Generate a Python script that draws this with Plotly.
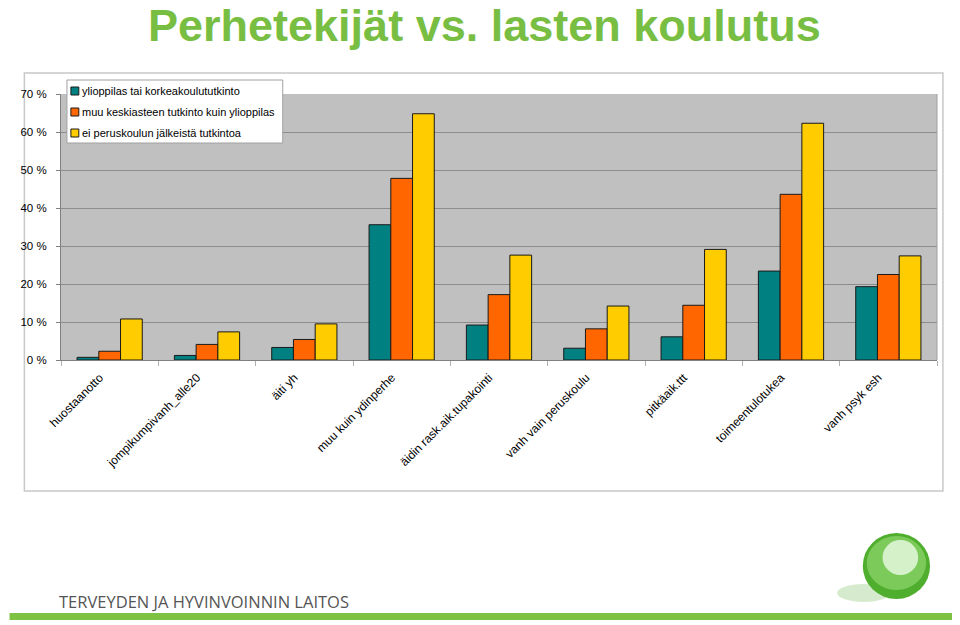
import plotly.graph_objects as go

categories = ["huostaanotto", "jompikumpivanh_alle20", "äiti yh", "muu kuin ydinperhe",
              "äidin rask.aik.tupakointi", "vanh vain peruskoulu", "pitkäaik.ttt",
              "toimeentulotukea", "vanh psyk esh"]
series_names = ["ylioppilas tai korkeakoulututkinto",
                "muu keskiasteen tutkinto kuin ylioppilas",
                "ei peruskoulun jälkeistä tutkintoa"]
ylioppilas = [0.7, 1.2, 3.3, 35.6, 9.2, 3.1, 6.1, 23.4, 19.3]
keskiaste = [2.3, 4.1, 5.4, 47.8, 17.2, 8.2, 14.4, 43.6, 22.5]
ei_tutkintoa = [10.8, 7.4, 9.5, 64.8, 27.6, 14.2, 29.1, 62.3, 27.4]
ytickvals = [0, 10, 20, 30, 40, 50, 60, 70]
yticktext = ["0 %", "10 %", "20 %", "30 %", "40 %", "50 %", "60 %", "70 %"]
colors = ["#008080", "#FF6600", "#FFCC00"]

# page has an 8px body margin: figure is drawn from screen (8, 8)
OFF = 8
W, H = 960 - OFF, 625 - OFF
L, R, T, B = 52, 937, 94, 360   # plot area in screen pixels


def px(x):
    return (x - L) / (R - L)


def py(y):
    return (B - y) / (B - T)


fig = go.Figure()
for name, vals, c in zip(series_names, [ylioppilas, keskiaste, ei_tutkintoa], colors):
    fig.add_trace(go.Bar(x=categories, y=vals, name=name, showlegend=False,
                         marker=dict(color=c, line=dict(color="#1a1a1a", width=1))))

shapes = [
    dict(type="rect", xref="paper", yref="paper", x0=px(15), x1=px(943), y0=py(491), y1=py(73),
         line=dict(color="#C8C8C8", width=1.5), layer="below"),
    dict(type="line", xref="paper", yref="paper", x0=1, x1=1, y0=0, y1=1,
         line=dict(color="#A0A0A0", width=1)),
    dict(type="rect", xref="paper", yref="paper", x0=px(0), x1=px(960), y0=py(620), y1=py(613),
         line=dict(width=0), fillcolor="#7DC242"),
    # logo
    dict(type="circle", xref="paper", yref="paper", x0=px(836), x1=px(890), y0=py(602), y1=py(584),
         line=dict(width=0), fillcolor="rgba(120,190,90,0.3)"),
    dict(type="circle", xref="paper", yref="paper", x0=px(862), x1=px(930), y0=py(599), y1=py(533),
         line=dict(width=0), fillcolor="#4FAE2E"),
    dict(type="circle", xref="paper", yref="paper", x0=px(866), x1=px(926), y0=py(590), y1=py(536),
         line=dict(width=0), fillcolor="#7CCB5A"),
    dict(type="circle", xref="paper", yref="paper", x0=px(882), x1=px(918), y0=py(575), y1=py(540),
         line=dict(width=0), fillcolor="rgba(235,250,230,0.8)"),
]

annotations = [
    dict(text="<b>Perhetekijät vs. lasten koulutus</b>", xref="paper", yref="paper",
         x=px(480), y=py(25), xanchor="center", yanchor="middle", showarrow=False,
         font=dict(family="Liberation Sans, Arial, sans-serif", size=45, color="#78BE43")),
    dict(text="TERVEYDEN JA HYVINVOINNIN LAITOS", xref="paper", yref="paper",
         x=px(48), y=py(601), xanchor="left", yanchor="middle", showarrow=False,
         font=dict(family="Open Sans, sans-serif", size=16.5, color="#555555")),
]

# custom legend (compact, like the reference)
shapes.append(dict(type="rect", xref="paper", yref="paper", x0=px(58), x1=px(276),
                   y0=py(143), y1=py(80), line=dict(color="#A0A0A0", width=1),
                   fillcolor="white"))
for i, (name, c) in enumerate(zip(series_names, colors)):
    yc = 91 + 21 * i
    shapes.append(dict(type="rect", xref="paper", yref="paper", x0=px(62), x1=px(70),
                       y0=py(yc + 4), y1=py(yc - 4), line=dict(color="#1a1a1a", width=1),
                       fillcolor=c))
    annotations.append(dict(text=name, xref="paper", yref="paper", x=px(71), y=py(yc),
                            xanchor="left", yanchor="middle", showarrow=False,
                            font=dict(size=11, color="black")))

fig.update_layout(
    width=W, height=H, autosize=False,
    margin=dict(l=L - OFF, r=W - (R - OFF), t=T - OFF, b=H - (B - OFF), pad=0),
    paper_bgcolor="white", plot_bgcolor="#C0C0C0",
    barmode="group", bargap=0.33, bargroupgap=0,
    font=dict(family="Liberation Sans, Arial, sans-serif", size=12, color="black"),
    showlegend=False,
    shapes=shapes, annotations=annotations,
)
fig.update_yaxes(range=[0, 70], tickvals=ytickvals, ticktext=yticktext,
                 showgrid=True, gridcolor="#8C8C8C", gridwidth=1,
                 showline=True, linecolor="#808080", ticks="outside", ticklen=4,
                 tickcolor="#808080", zeroline=False, fixedrange=True,
                 ticklabelstandoff=7, tickfont=dict(size=11.5))
fig.update_xaxes(tickangle=-45, showline=True, linecolor="#808080", ticks="outside",
                 tickson="boundaries", ticklen=5, tickcolor="#B0B0B0", fixedrange=True,
                 ticklabelstandoff=5, ticklabelshift=-10)

fig.write_html("out.html")
